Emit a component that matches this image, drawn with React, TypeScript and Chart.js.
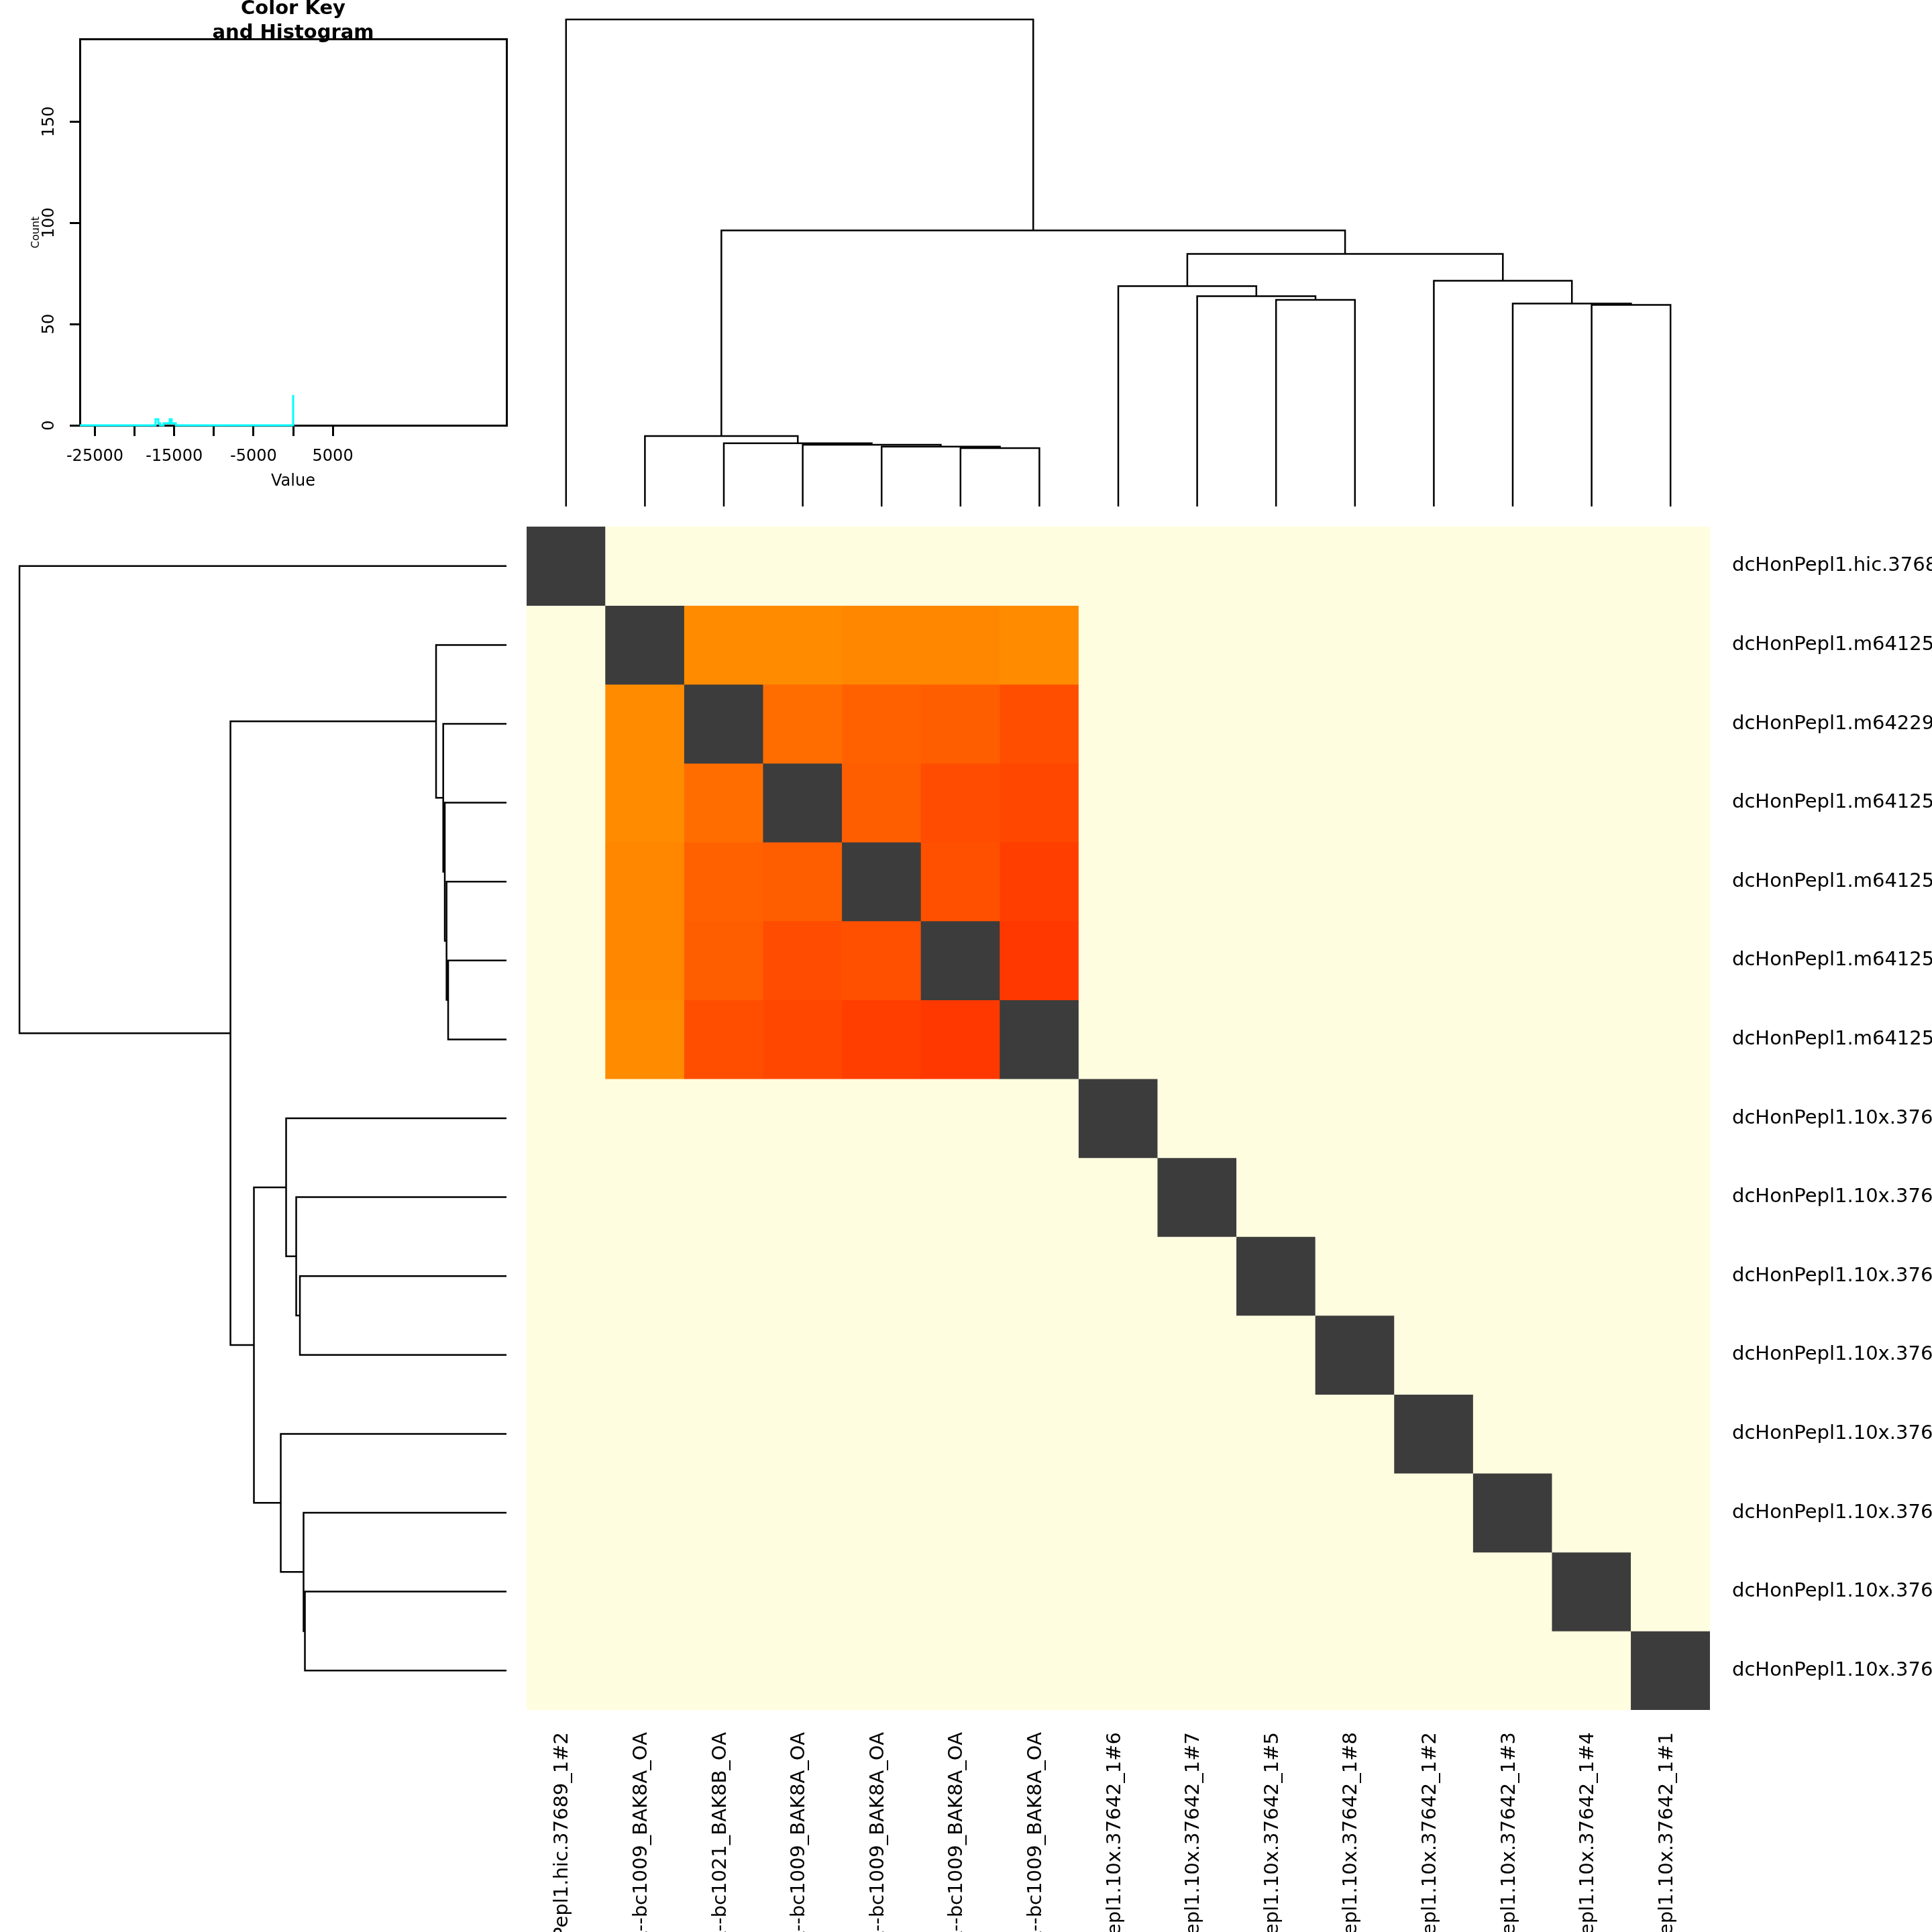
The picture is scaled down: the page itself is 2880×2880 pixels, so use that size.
import React, { useEffect, useRef } from "react";
import { Chart, registerables } from "chart.js";

Chart.register(...registerables);

const FONT = "'DejaVu Sans', 'Liberation Sans', sans-serif";
Chart.defaults.font.family = FONT;
Chart.defaults.color = "#000";

// ---------- data ----------
const sampleLabels = [
  "dcHonPepl1.hic.37689_1#2",
  "dcHonPepl1.m64125e_220211_130915.ccs.bc1009_BAK8A_OA--bc1009_BAK8A_OA",
  "dcHonPepl1.m64229e_220304_085716.ccs.bc1021_BAK8B_OA--bc1021_BAK8B_OA",
  "dcHonPepl1.m64125e_220216_103652.ccs.bc1009_BAK8A_OA--bc1009_BAK8A_OA",
  "dcHonPepl1.m64125e_220218_092210.ccs.bc1009_BAK8A_OA--bc1009_BAK8A_OA",
  "dcHonPepl1.m64125e_220225_141447.ccs.bc1009_BAK8A_OA--bc1009_BAK8A_OA",
  "dcHonPepl1.m64125e_220301_114033.ccs.bc1009_BAK8A_OA--bc1009_BAK8A_OA",
  "dcHonPepl1.10x.37642_1#6",
  "dcHonPepl1.10x.37642_1#7",
  "dcHonPepl1.10x.37642_1#5",
  "dcHonPepl1.10x.37642_1#8",
  "dcHonPepl1.10x.37642_1#2",
  "dcHonPepl1.10x.37642_1#3",
  "dcHonPepl1.10x.37642_1#4",
  "dcHonPepl1.10x.37642_1#1",
];

const N = null;
const cellValues: (number | null)[][] = [
  [0, N, N, N, N, N, N, N, N, N, N, N, N, N, N],
  [N, 0, -15000, -15000, -15150, -15150, -15000, N, N, N, N, N, N, N, N],
  [N, -15000, 0, -15920, -16280, -16370, -16850, N, N, N, N, N, N, N, N],
  [N, -15000, -15920, 0, -16370, -16900, -17050, N, N, N, N, N, N, N, N],
  [N, -15150, -16280, -16370, 0, -16790, -17320, N, N, N, N, N, N, N, N],
  [N, -15150, -16370, -16900, -16790, 0, -17500, N, N, N, N, N, N, N, N],
  [N, -15000, -16850, -17050, -17320, -17500, 0, N, N, N, N, N, N, N, N],
  [N, N, N, N, N, N, N, 0, N, N, N, N, N, N, N],
  [N, N, N, N, N, N, N, N, 0, N, N, N, N, N, N],
  [N, N, N, N, N, N, N, N, N, 0, N, N, N, N, N],
  [N, N, N, N, N, N, N, N, N, N, 0, N, N, N, N],
  [N, N, N, N, N, N, N, N, N, N, N, 0, N, N, N],
  [N, N, N, N, N, N, N, N, N, N, N, N, 0, N, N],
  [N, N, N, N, N, N, N, N, N, N, N, N, N, 0, N],
  [N, N, N, N, N, N, N, N, N, N, N, N, N, N, 0],
];

// colour key
const paletteValues = [-17500, -15000, 0];
const paletteColors = ["#FF3800", "#FF8C00", "#3C3C3C"];
const NA_COLOR = "#FFFDE0";

// dendrogram (shared by rows and columns); leaves 0..14, merge k -> node 15+k
const mergeLeft = [5, 4, 3, 2, 1, 13, 12, 9, 8, 7, 11, 24, 19, 0];
const mergeRight = [6, 15, 16, 17, 18, 14, 20, 10, 22, 23, 21, 25, 26, 27];
const mergeHeight = [11.98, 12.31, 12.67, 12.99, 14.46, 41.39, 41.67, 42.42, 43.18, 45.25, 46.35, 51.86, 56.68, 100];

// histogram (colour key)
const keyMin = -26900;
const keyMax = 26900;
const keyTicks = [-25000, -20000, -15000, -10000, -5000, 0, 5000];
const keyTickLabels = [-25000, -15000, -5000, 5000];
const countTicks = [0, 50, 100, 150];
const countMax = 190.6;
const histEdges = [-17350, -17000, -16780, -16350, -15560, -15330, -14800, 0];
const histCounts = [3, 1, 0, 1, 3, 1, 0, 15];

// ---------- helpers ----------
function hexToRgb(h: string) {
  const n = parseInt(h.slice(1), 16);
  return [(n >> 16) & 255, (n >> 8) & 255, n & 255];
}
function cellColor(v: number | null): string {
  if (v === null) return NA_COLOR;
  if (v <= paletteValues[0]) return paletteColors[0];
  for (let i = 0; i < paletteValues.length - 1; i++) {
    const a = paletteValues[i], b = paletteValues[i + 1];
    if (v >= a && v <= b) {
      const t = (v - a) / (b - a);
      const ca = hexToRgb(paletteColors[i]), cb = hexToRgb(paletteColors[i + 1]);
      const c = ca.map((x, k) => Math.round(x + (cb[k] - x) * t));
      return `rgb(${c[0]},${c[1]},${c[2]})`;
    }
  }
  return paletteColors[paletteColors.length - 1];
}

function dendroSegments() {
  const nLeaves = sampleLabels.length;
  const pos: number[] = [];
  const hgt: number[] = [];
  for (let i = 0; i < nLeaves; i++) { pos[i] = i; hgt[i] = 0; }
  const segs: { l: number; r: number; h: number; hl: number; hr: number }[] = [];
  mergeLeft.forEach((l, k) => {
    const r = mergeRight[k];
    const id = nLeaves + k;
    pos[id] = (pos[l] + pos[r]) / 2;
    hgt[id] = mergeHeight[k];
    segs.push({ l: pos[l], r: pos[r], h: mergeHeight[k], hl: hgt[l], hr: hgt[r] });
  });
  return segs;
}

const HMIN = -4.13;
const HMAX = 104;
const LABEL_SIZE = 29;

const baseOpts = {
  animation: false as const,
  responsive: false,
  maintainAspectRatio: false,
  devicePixelRatio: 1,
  events: [] as any[],
};

export default function App() {
  const histRef = useRef<HTMLCanvasElement>(null);
  const topRef = useRef<HTMLCanvasElement>(null);
  const leftRef = useRef<HTMLCanvasElement>(null);
  const heatRef = useRef<HTMLCanvasElement>(null);

  useEffect(() => {
    const charts: Chart[] = [];
    const segs = dendroSegments();
    const lineStyle = { borderColor: "#000", borderWidth: 2.5, pointRadius: 0, showLine: true, fill: false };

    // histogram / colour key
    const histPoints = [{ x: keyMin, y: 0 }, ...histEdges.map((e, i) => ({ x: e, y: histCounts[i] }))];
    charts.push(
      new Chart(histRef.current!, {
        type: "scatter",
        data: {
          datasets: [
            {
              data: histPoints,
              showLine: true,
              stepped: "before",
              borderColor: "#00FFFF",
              borderWidth: 3,
              pointRadius: 0,
              clip: false,
            } as any,
          ],
        },
        options: {
          ...baseOpts,
          layout: { padding: { left: 0, top: 0, right: 25, bottom: 0 } },
          plugins: {
            legend: { display: false },
            tooltip: { enabled: false },
            title: {
              display: true,
              text: ["Color Key", "and Histogram"],
              fullSize: false,
              color: "#000",
              font: { family: FONT, size: 29, weight: "bold", lineHeight: 1.22 },
              padding: { top: -4, bottom: -8 },
            },
          },
          scales: {
            x: {
              type: "linear",
              min: keyMin,
              max: keyMax,
              afterBuildTicks: (s: any) => { s.ticks = keyTicks.map((v) => ({ value: v })); },
              afterFit: (s: any) => { s.height = 126; },
              ticks: {
                autoSkip: false, minRotation: 0, maxRotation: 0, padding: 16, color: "#000",
                font: { family: FONT, size: 24 },
                callback: (v: any) => (keyTickLabels.includes(Number(v)) ? String(v) : ""),
              },
              grid: { display: true, drawOnChartArea: false, drawTicks: true, tickLength: 16, lineWidth: 3, tickWidth: 3, tickColor: "#000", color: "#000" },
              border: { display: true, width: 3, color: "#000" },
              title: { display: true, text: "Value", color: "#000", font: { family: FONT, size: 24 }, padding: { top: 0, bottom: 28 } },
            },
            y: {
              type: "linear",
              min: 0,
              max: countMax,
              afterBuildTicks: (s: any) => { s.ticks = countTicks.map((v) => ({ value: v })); },
              afterFit: (s: any) => { s.width = 119; },
              ticks: {
                autoSkip: false, minRotation: 90, maxRotation: 90, crossAlign: "center", padding: 7, color: "#000",
                font: { family: FONT, size: 24 },
                callback: (v: any) => String(v),
              },
              grid: { display: true, drawOnChartArea: false, drawTicks: true, tickLength: 15, lineWidth: 3, tickWidth: 3, tickColor: "#000", color: "#000" },
              border: { display: true, width: 3, color: "#000" },
              title: { display: true, text: "Count", color: "#000", font: { family: FONT, size: 16 }, padding: { top: 44, bottom: 0 } },
            },
            x2: {
              type: "linear", position: "top", display: true,
              ticks: { display: false }, grid: { display: false },
              border: { display: true, width: 3, color: "#000" },
              afterFit: (s: any) => { s.height = 0; },
            },
            y2: {
              type: "linear", position: "right", display: true,
              ticks: { display: false }, grid: { display: false },
              border: { display: true, width: 3, color: "#000" },
              afterFit: (s: any) => { s.width = 0; },
            },
          },
        } as any,
      })
    );

    // column dendrogram (top)
    charts.push(
      new Chart(topRef.current!, {
        type: "scatter",
        data: {
          datasets: segs.map((s) => ({
            ...lineStyle,
            data: [
              { x: s.l, y: s.hl },
              { x: s.l, y: s.h },
              { x: s.r, y: s.h },
              { x: s.r, y: s.hr },
            ],
          })),
        },
        options: {
          ...baseOpts,
          layout: { padding: 0 },
          plugins: { legend: { display: false }, tooltip: { enabled: false } },
          scales: {
            x: { type: "linear", min: -0.5, max: sampleLabels.length - 0.5, display: false },
            y: { type: "linear", min: HMIN, max: HMAX, display: false },
          },
        } as any,
      })
    );

    // row dendrogram (left)
    charts.push(
      new Chart(leftRef.current!, {
        type: "scatter",
        data: {
          datasets: segs.map((s) => ({
            ...lineStyle,
            data: [
              { x: s.hl, y: s.l },
              { x: s.h, y: s.l },
              { x: s.h, y: s.r },
              { x: s.hr, y: s.r },
            ],
          })),
        },
        options: {
          ...baseOpts,
          layout: { padding: 0 },
          plugins: { legend: { display: false }, tooltip: { enabled: false } },
          scales: {
            x: { type: "linear", min: HMIN, max: HMAX, reverse: true, display: false },
            y: { type: "linear", min: -0.5, max: sampleLabels.length - 0.5, reverse: true, display: false },
          },
        } as any,
      })
    );

    // heatmap
    charts.push(
      new Chart(heatRef.current!, {
        type: "bar",
        data: {
          labels: sampleLabels,
          datasets: sampleLabels.map((_, r) => ({
            data: sampleLabels.map(() => [r, r + 1]),
            backgroundColor: cellValues[r].map(cellColor),
            borderWidth: 0,
            grouped: false,
            barPercentage: 1,
            categoryPercentage: 1,
          })) as any,
        },
        options: {
          ...baseOpts,
          layout: { padding: 0 },
          plugins: { legend: { display: false }, tooltip: { enabled: false } },
          scales: {
            x: {
              type: "category",
              position: "bottom",
              offset: true,
              grid: { display: false, drawTicks: false },
              border: { display: false },
              afterFit: (s: any) => { s.height = 331; s.paddingLeft = 0; s.paddingRight = 0; },
              ticks: {
                autoSkip: false, minRotation: 90, maxRotation: 90, padding: 33, labelOffset: -5,
                color: "#000", font: { family: FONT, size: LABEL_SIZE },
              },
            },
            y: {
              type: "linear",
              position: "right",
              min: 0,
              max: sampleLabels.length,
              reverse: true,
              grid: { display: false, drawTicks: false },
              border: { display: false },
              afterBuildTicks: (s: any) => { s.ticks = sampleLabels.map((_, i) => ({ value: i + 0.5 })); },
              afterFit: (s: any) => { s.width = 331; s.paddingTop = 0; s.paddingBottom = 0; },
              ticks: {
                autoSkip: false, padding: 33, color: "#000", font: { family: FONT, size: LABEL_SIZE },
                callback: (_v: any, i: number) => sampleLabels[i],
              },
            },
          },
        } as any,
      })
    );

    return () => charts.forEach((c) => c.destroy());
  }, []);

  const abs = (left: number, top: number, w: number, h: number): React.CSSProperties => ({
    position: "absolute", left, top, width: w, height: h, display: "block",
  });

  return (
    <div style={{ position: "relative", width: 2880, height: 2880, overflow: "hidden", background: "#fff" }}>
      <style>{"html,body{margin:0;padding:0;background:#fff;}"}</style>
      <canvas ref={histRef} width={780} height={760} style={abs(0, 0, 780, 760)} />
      <canvas ref={topRef} width={1764} height={785} style={abs(785, 0, 1764, 785)} />
      <canvas ref={leftRef} width={785} height={1764} style={abs(0, 785, 785, 1764)} />
      <canvas ref={heatRef} width={2095} height={2095} style={abs(785, 785, 2095, 2095)} />
    </div>
  );
}
